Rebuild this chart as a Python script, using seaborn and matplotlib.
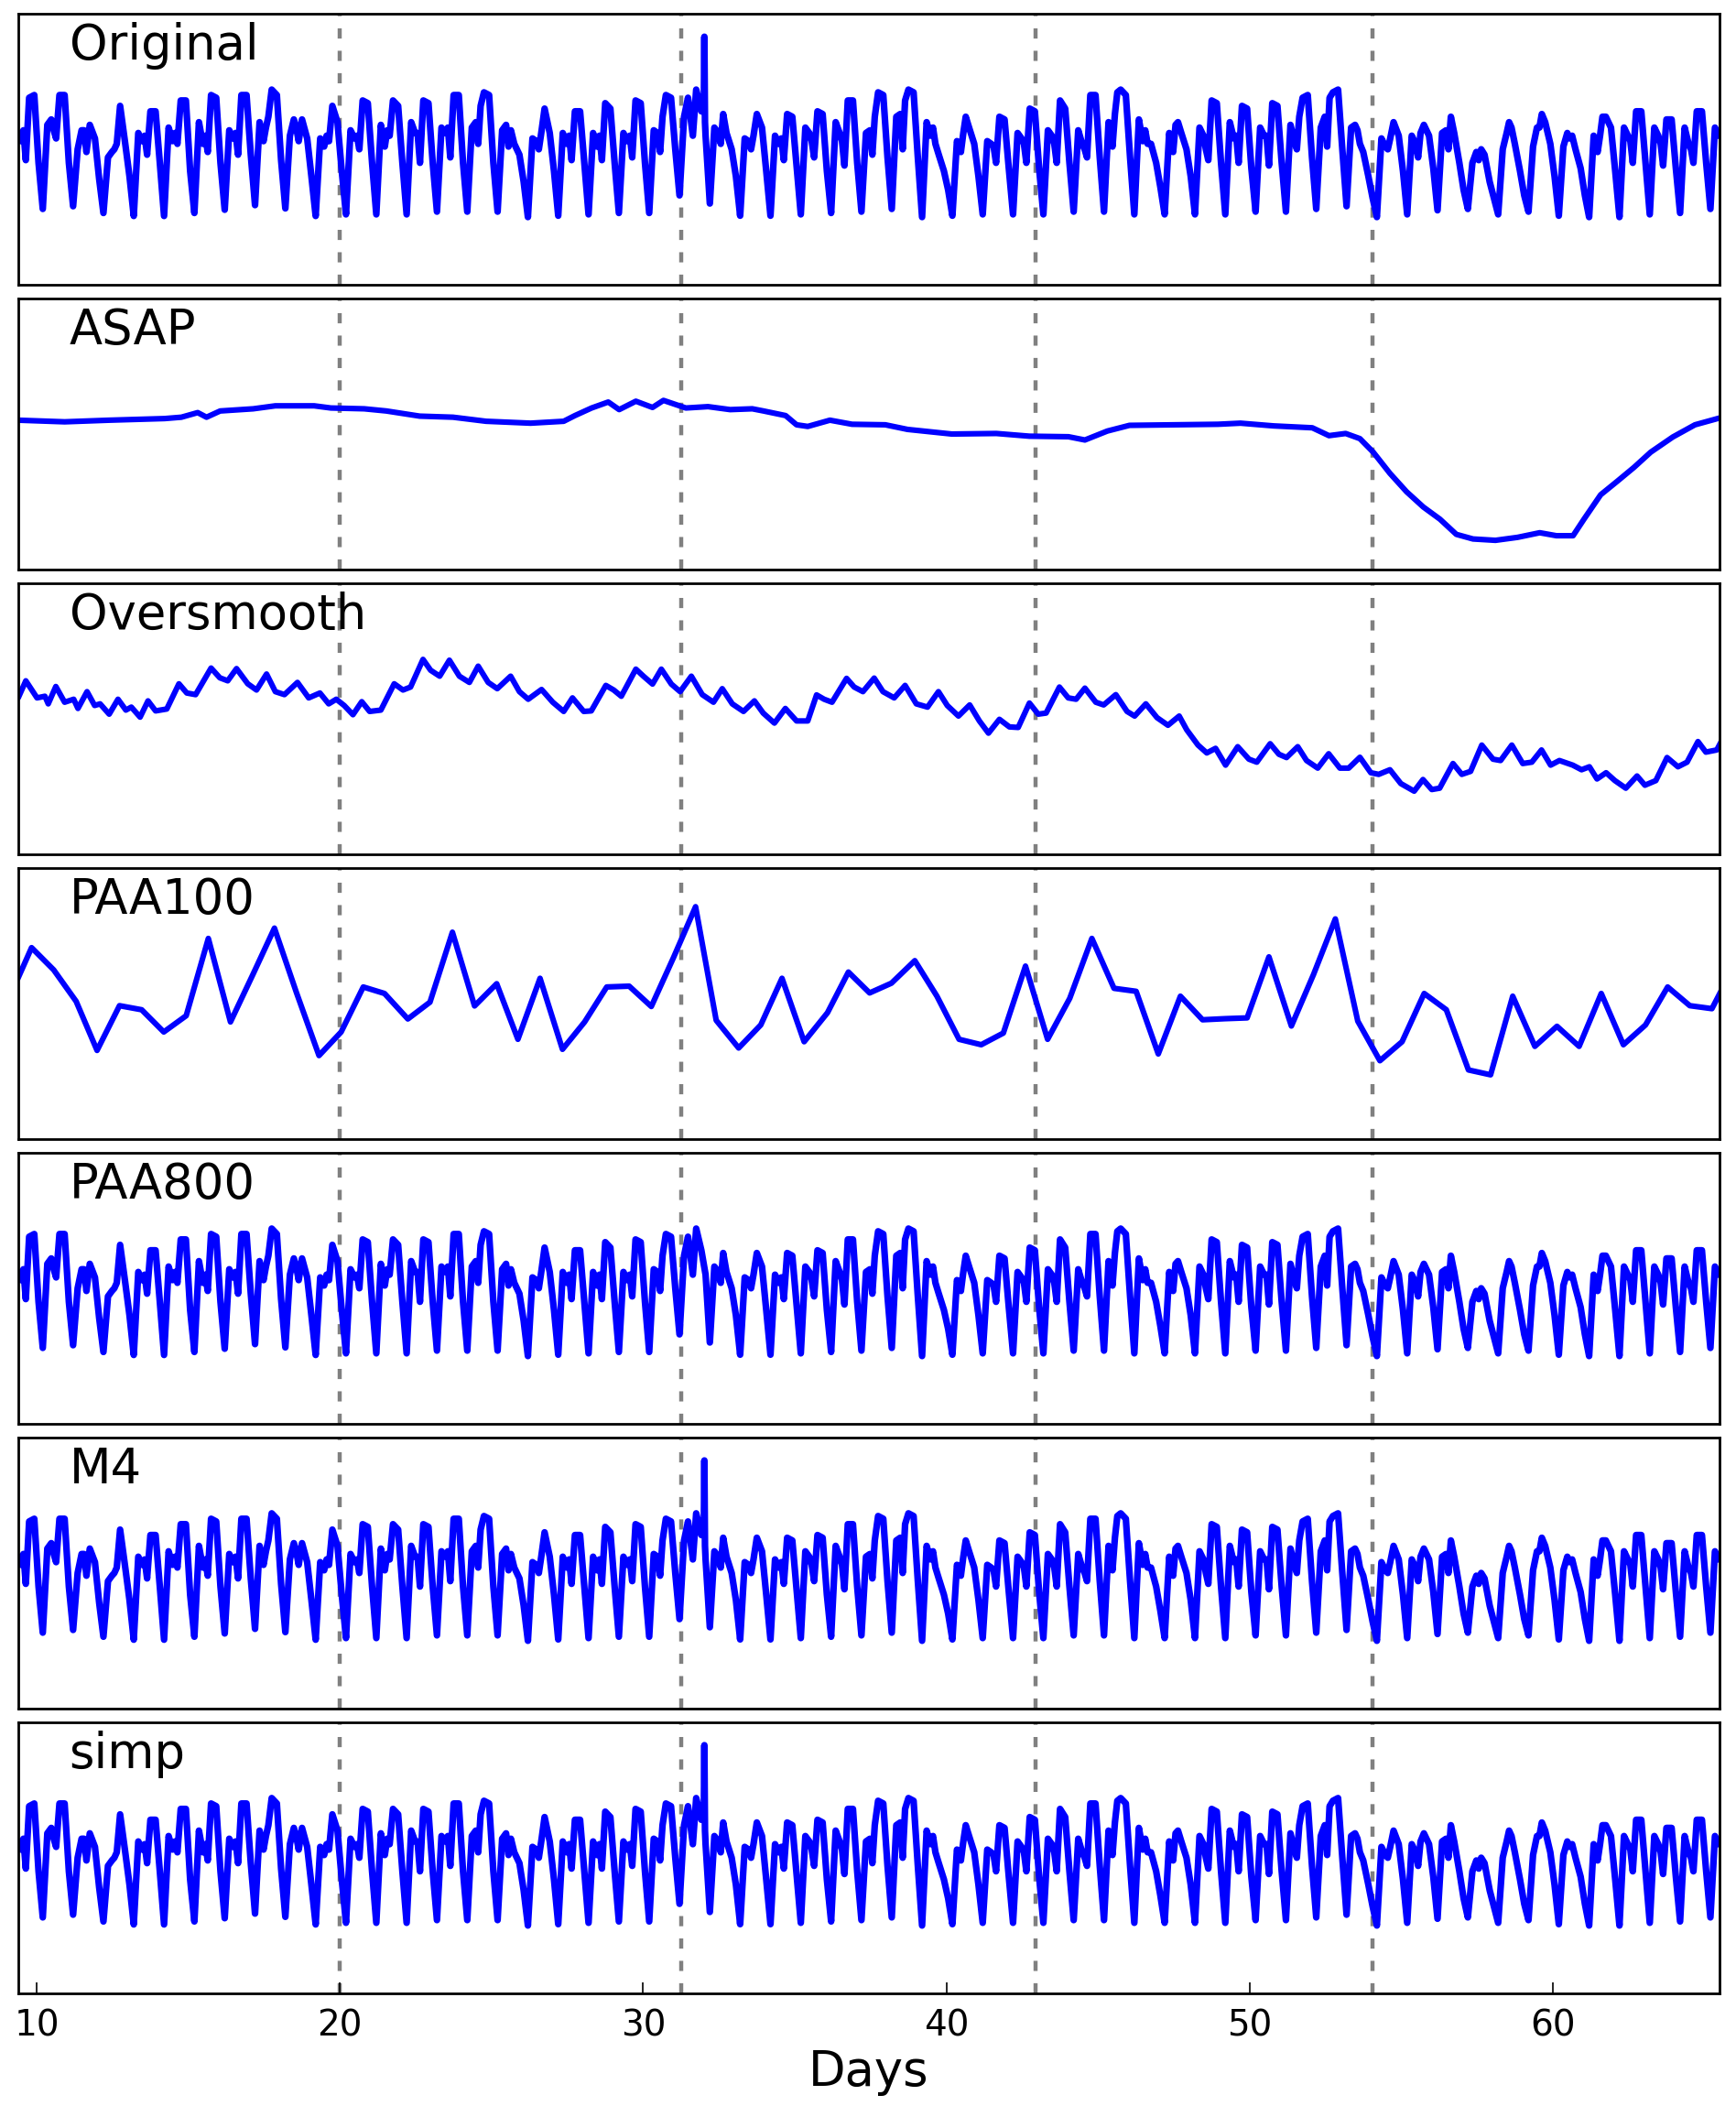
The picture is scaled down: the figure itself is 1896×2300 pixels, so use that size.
import numpy as np
import pandas as pd
import matplotlib
matplotlib.use("Agg")
import matplotlib.pyplot as plt
import seaborn as sns

# --- data (values are fractions of panel height) ---

# samples inside each day, as offsets (days) from the nightly trough
day_phases = [0.0, 0.15, 0.28, 0.36, 0.44, 0.55, 0.72, 0.86]
first_trough = 9.2

# one row per day: trough, rise, dip, mid, dip, peak, peak, fall
original_days = [
    [0.50, 0.565, 0.53, 0.57, 0.46, 0.69, 0.70, 0.45],   # 9.2
    [0.28, 0.59, 0.61, 0.57, 0.54, 0.70, 0.70, 0.45],
    [0.29, 0.50, 0.57, 0.57, 0.49, 0.59, 0.54, 0.39],
    [0.265, 0.47, 0.49, 0.50, 0.52, 0.66, 0.52, 0.40],
    [0.254, 0.56, 0.53, 0.55, 0.48, 0.64, 0.64, 0.45],
    [0.254, 0.58, 0.53, 0.56, 0.52, 0.68, 0.68, 0.42],
    [0.265, 0.60, 0.52, 0.55, 0.49, 0.70, 0.69, 0.45],
    [0.277, 0.57, 0.54, 0.56, 0.48, 0.70, 0.70, 0.48],
    [0.294, 0.60, 0.53, 0.58, 0.62, 0.72, 0.70, 0.46],
    [0.282, 0.55, 0.61, 0.58, 0.53, 0.61, 0.54, 0.40],
    [0.254, 0.54, 0.51, 0.55, 0.53, 0.66, 0.60, 0.42],   # 19.2
    [0.26, 0.57, 0.54, 0.55, 0.50, 0.68, 0.67, 0.45],
    [0.26, 0.59, 0.51, 0.57, 0.55, 0.68, 0.66, 0.45],
    [0.26, 0.60, 0.56, 0.56, 0.45, 0.68, 0.67, 0.45],
    [0.27, 0.58, 0.56, 0.58, 0.47, 0.70, 0.70, 0.45],
    [0.27, 0.58, 0.60, 0.52, 0.66, 0.71, 0.70, 0.45],
    [0.27, 0.57, 0.59, 0.51, 0.57, 0.52, 0.48, 0.38],
    [0.25, 0.54, 0.53, 0.50, 0.56, 0.65, 0.56, 0.42],
    [0.255, 0.56, 0.52, 0.55, 0.46, 0.64, 0.64, 0.45],
    [0.26, 0.56, 0.51, 0.55, 0.46, 0.67, 0.65, 0.45],
    [0.265, 0.56, 0.53, 0.55, 0.47, 0.68, 0.67, 0.45],   # 29.2
    [0.265, 0.57, 0.56, 0.49, 0.62, 0.70, 0.69, 0.50],
    [0.33, 0.62, 0.69, 0.62, 0.55, 0.72, 0.64, 0.55],
    [0.30, 0.58, 0.56, 0.52, 0.63, 0.56, 0.50, 0.40],
    [0.255, 0.54, 0.53, 0.50, 0.55, 0.63, 0.58, 0.42],
    [0.255, 0.55, 0.52, 0.54, 0.46, 0.63, 0.62, 0.44],
    [0.26, 0.58, 0.56, 0.53, 0.47, 0.64, 0.63, 0.42],
    [0.265, 0.60, 0.56, 0.53, 0.44, 0.68, 0.68, 0.45],
    [0.27, 0.56, 0.57, 0.48, 0.62, 0.71, 0.70, 0.47],
    [0.28, 0.62, 0.63, 0.50, 0.68, 0.72, 0.71, 0.47],
    [0.25, 0.60, 0.55, 0.58, 0.52, 0.48, 0.42, 0.35],    # 39.2
    [0.255, 0.53, 0.49, 0.56, 0.62, 0.58, 0.52, 0.40],
    [0.26, 0.53, 0.52, 0.51, 0.45, 0.62, 0.61, 0.43],
    [0.26, 0.56, 0.54, 0.52, 0.45, 0.65, 0.64, 0.43],
    [0.26, 0.57, 0.55, 0.52, 0.45, 0.68, 0.65, 0.45],
    [0.27, 0.57, 0.52, 0.50, 0.47, 0.70, 0.70, 0.47],
    [0.27, 0.60, 0.51, 0.63, 0.71, 0.72, 0.70, 0.47],
    [0.26, 0.61, 0.53, 0.57, 0.52, 0.52, 0.45, 0.36],
    [0.26, 0.56, 0.49, 0.59, 0.60, 0.56, 0.50, 0.40],
    [0.26, 0.58, 0.55, 0.50, 0.46, 0.68, 0.67, 0.45],
    [0.26, 0.60, 0.54, 0.55, 0.45, 0.66, 0.65, 0.43],    # 49.2
    [0.27, 0.58, 0.55, 0.55, 0.44, 0.67, 0.66, 0.45],
    [0.27, 0.59, 0.53, 0.50, 0.62, 0.69, 0.70, 0.47],
    [0.28, 0.58, 0.62, 0.51, 0.69, 0.71, 0.72, 0.50],
    [0.29, 0.58, 0.59, 0.57, 0.52, 0.49, 0.40, 0.32],
    [0.25, 0.54, 0.51, 0.50, 0.54, 0.60, 0.55, 0.42],
    [0.26, 0.55, 0.52, 0.47, 0.56, 0.59, 0.55, 0.43],
    [0.275, 0.56, 0.57, 0.50, 0.62, 0.56, 0.45, 0.35],
    [0.28, 0.45, 0.49, 0.46, 0.50, 0.48, 0.38, 0.32],
    [0.26, 0.50, 0.56, 0.60, 0.58, 0.52, 0.42, 0.33],
    [0.27, 0.51, 0.58, 0.58, 0.63, 0.60, 0.52, 0.40],    # 59.2
    [0.255, 0.51, 0.56, 0.54, 0.55, 0.50, 0.43, 0.33],
    [0.25, 0.55, 0.49, 0.55, 0.62, 0.62, 0.58, 0.42],
    [0.25, 0.58, 0.55, 0.53, 0.45, 0.64, 0.64, 0.45],
    [0.26, 0.58, 0.55, 0.52, 0.44, 0.61, 0.61, 0.43],
    [0.265, 0.58, 0.52, 0.50, 0.45, 0.64, 0.64, 0.45],
    [0.28, 0.58, 0.55, 0.55, 0.50, 0.60, 0.60, 0.45],    # 65.2
]

# the single outlier on day 32
spike_days = [32.00, 32.02, 32.04]
spike_vals = [0.64, 0.915, 0.60]

asap_days = [9.39, 10.92, 12.39, 14.22, 14.77, 15.31, 15.60, 16.05, 17.14, 17.87,
             19.15, 19.70, 20.80, 21.53, 22.63, 23.73, 24.82, 26.29, 27.38, 27.75,
             28.30, 28.85, 29.21, 29.76, 30.31, 30.67, 31.41, 32.14, 32.87, 33.60,
             33.97, 34.70, 35.06, 35.43, 36.16, 36.89, 37.99, 38.72, 40.18, 41.65,
             42.74, 44.03, 44.57, 45.31, 46.04, 47.50, 48.96, 49.70, 50.79, 52.07,
             52.62, 53.17, 53.64, 54.08, 54.63, 55.18, 55.73, 56.28, 56.82, 57.37,
             58.11, 58.84, 59.57, 60.12, 60.67, 61.03, 61.58, 62.13, 62.68, 63.23,
             63.96, 64.69, 65.50]
asap_vals = [0.551, 0.545, 0.551, 0.557, 0.562, 0.579, 0.562, 0.585, 0.593, 0.604,
             0.604, 0.596, 0.593, 0.585, 0.566, 0.562, 0.547, 0.540, 0.547, 0.568,
             0.596, 0.618, 0.590, 0.621, 0.598, 0.624, 0.596, 0.601, 0.590, 0.593,
             0.585, 0.568, 0.534, 0.528, 0.551, 0.536, 0.534, 0.517, 0.500, 0.502,
             0.492, 0.490, 0.478, 0.511, 0.532, 0.534, 0.536, 0.540, 0.530, 0.523,
             0.494, 0.502, 0.483, 0.433, 0.355, 0.287, 0.231, 0.186, 0.130, 0.113,
             0.108, 0.119, 0.136, 0.125, 0.125, 0.186, 0.276, 0.326, 0.377, 0.433,
             0.489, 0.534, 0.559]

oversmooth_days = [9.39, 9.64, 10.01, 10.27, 10.38, 10.63, 10.92, 11.22, 11.36, 11.66,
                   11.91, 12.09, 12.39, 12.68, 12.94, 13.12, 13.41, 13.67, 13.92, 14.29,
                   14.69, 14.95, 15.24, 15.75, 16.04, 16.30, 16.59, 16.96, 17.25, 17.58,
                   17.87, 18.17, 18.60, 18.97, 19.34, 19.63, 19.88, 20.14, 20.43, 20.72,
                   20.98, 21.35, 21.79, 22.08, 22.33, 22.74, 22.99, 23.29, 23.61, 23.94,
                   24.27, 24.56, 24.89, 25.19, 25.63, 25.92, 26.21, 26.65, 27.02, 27.38,
                   27.67, 28.04, 28.29, 28.77, 29.03, 29.28, 29.76, 30.01, 30.31, 30.60,
                   30.93, 31.22, 31.59, 31.95, 32.32, 32.61, 32.94, 33.31, 33.67, 33.96,
                   34.33, 34.69, 35.06, 35.43, 35.72, 35.97, 36.23, 36.71, 36.96, 37.25,
                   37.62, 37.91, 38.28, 38.64, 39.01, 39.38, 39.74, 40.03, 40.40, 40.77,
                   41.09, 41.39, 41.75, 42.08, 42.37, 42.74, 43.03, 43.29, 43.73, 44.02,
                   44.28, 44.57, 44.93, 45.19, 45.59, 45.96, 46.21, 46.58, 46.95, 47.31,
                   47.68, 47.93, 48.30, 48.59, 48.88, 49.21, 49.61, 49.98, 50.24, 50.68,
                   50.97, 51.22, 51.59, 51.88, 52.25, 52.61, 52.98, 53.27, 53.64, 54.00,
                   54.26, 54.63, 54.99, 55.43, 55.72, 56.01, 56.27, 56.71, 57.00, 57.29,
                   57.66, 58.03, 58.28, 58.65, 59.01, 59.31, 59.63, 59.93, 60.22, 60.66,
                   60.95, 61.21, 61.46, 61.76, 62.05, 62.41, 62.78, 63.04, 63.40, 63.77,
                   64.13, 64.43, 64.79, 65.05, 65.41, 65.60]
oversmooth_vals = [0.577, 0.640, 0.577, 0.583, 0.555, 0.619, 0.561, 0.572, 0.538, 0.600,
                   0.549, 0.555, 0.517, 0.572, 0.532, 0.543, 0.506, 0.566, 0.529, 0.536,
                   0.629, 0.595, 0.589, 0.687, 0.651, 0.640, 0.685, 0.629, 0.606, 0.665,
                   0.600, 0.589, 0.634, 0.577, 0.595, 0.555, 0.572, 0.549, 0.515, 0.563,
                   0.527, 0.532, 0.629, 0.606, 0.617, 0.719, 0.679, 0.657, 0.716, 0.657,
                   0.634, 0.694, 0.634, 0.611, 0.657, 0.600, 0.572, 0.608, 0.561, 0.527,
                   0.577, 0.527, 0.529, 0.623, 0.606, 0.583, 0.683, 0.657, 0.628, 0.683,
                   0.628, 0.600, 0.657, 0.589, 0.561, 0.611, 0.555, 0.527, 0.566, 0.521,
                   0.484, 0.538, 0.492, 0.492, 0.588, 0.572, 0.561, 0.649, 0.617, 0.600,
                   0.650, 0.600, 0.577, 0.623, 0.555, 0.543, 0.600, 0.549, 0.510, 0.551,
                   0.492, 0.447, 0.498, 0.470, 0.468, 0.558, 0.517, 0.521, 0.617, 0.577,
                   0.572, 0.613, 0.561, 0.551, 0.589, 0.527, 0.510, 0.555, 0.504, 0.476,
                   0.510, 0.459, 0.403, 0.374, 0.391, 0.329, 0.397, 0.351, 0.340, 0.408,
                   0.369, 0.357, 0.397, 0.346, 0.318, 0.371, 0.318, 0.318, 0.358, 0.301,
                   0.295, 0.312, 0.261, 0.233, 0.276, 0.239, 0.244, 0.335, 0.295, 0.306,
                   0.403, 0.351, 0.346, 0.403, 0.335, 0.340, 0.385, 0.329, 0.346, 0.329,
                   0.312, 0.323, 0.278, 0.301, 0.272, 0.244, 0.289, 0.255, 0.272, 0.357,
                   0.323, 0.340, 0.416, 0.377, 0.385, 0.425]

paa100_days = [9.37, 9.83, 10.56, 11.30, 11.99, 12.73, 13.46, 14.19, 14.93, 15.66,
               16.39, 17.13, 17.84, 18.57, 19.31, 20.04, 20.77, 21.47, 22.24, 22.97,
               23.71, 24.44, 25.17, 25.87, 26.60, 27.34, 28.07, 28.80, 29.54, 30.27,
               31.00, 31.73, 32.41, 33.15, 33.88, 34.58, 35.31, 36.08, 36.77, 37.47,
               38.19, 38.96, 39.69, 40.42, 41.15, 41.88, 42.61, 43.34, 44.07, 44.80,
               45.53, 46.26, 46.99, 47.72, 48.45, 49.18, 49.92, 50.64, 51.38, 52.11,
               52.83, 53.57, 54.30, 55.03, 55.76, 56.49, 57.22, 57.95, 58.68, 59.41,
               60.14, 60.87, 61.60, 62.33, 63.06, 63.79, 64.52, 65.25, 65.56]
paa100_vals = [0.590, 0.706, 0.624, 0.508, 0.327, 0.492, 0.477, 0.395, 0.455, 0.740,
               0.432, 0.607, 0.778, 0.539, 0.308, 0.395, 0.561, 0.537, 0.443, 0.505,
               0.763, 0.491, 0.573, 0.368, 0.593, 0.331, 0.432, 0.561, 0.564, 0.489,
               0.669, 0.857, 0.438, 0.336, 0.421, 0.593, 0.359, 0.466, 0.616, 0.539,
               0.575, 0.658, 0.527, 0.368, 0.348, 0.391, 0.638, 0.368, 0.519, 0.740,
               0.556, 0.545, 0.314, 0.527, 0.440, 0.444, 0.447, 0.672, 0.417, 0.607,
               0.812, 0.435, 0.289, 0.359, 0.537, 0.477, 0.255, 0.237, 0.527, 0.342,
               0.416, 0.342, 0.537, 0.348, 0.421, 0.561, 0.492, 0.481, 0.548]

panel_names = ["Original", "ASAP", "Oversmooth", "PAA100", "PAA800", "M4", "simp"]
boundary_days = [20.0, 31.25, 42.95, 54.05]
x_ticks = [10, 20, 30, 40, 50, 60]


def daily_series(with_spike):
    days, vals = [], []
    for k, row in enumerate(original_days):
        for ph, v in zip(day_phases, row):
            days.append(first_trough + k + ph)
            vals.append(v)
    if with_spike:
        days += spike_days
        vals += spike_vals
    return pd.DataFrame({"day": days, "value": vals})


series = {
    "Original": daily_series(True),
    "ASAP": pd.DataFrame({"day": asap_days, "value": asap_vals}),
    "Oversmooth": pd.DataFrame({"day": oversmooth_days, "value": oversmooth_vals}),
    "PAA100": pd.DataFrame({"day": paa100_days, "value": paa100_vals}),
    "PAA800": daily_series(False),
    "M4": daily_series(True),
    "simp": daily_series(True),
}

sns.set_style("white")
plt.rcParams["font.family"] = ["DejaVu Sans"]
plt.rcParams["text.color"] = "black"
plt.rcParams["xtick.color"] = "black"
plt.rcParams["axes.labelcolor"] = "black"

fig, axes = plt.subplots(7, 1, figsize=(9.48, 11.5), dpi=200, sharex=True)
fig.subplots_adjust(left=0.0105, right=0.9905, top=0.9935, bottom=0.0535, hspace=0.05)

for ax, name in zip(axes, panel_names):
    lw = 2.2 if name in ("ASAP", "Oversmooth", "PAA100") else 2.6
    sns.lineplot(data=series[name], x="day", y="value", ax=ax, color="#0000ff",
                 lw=lw, estimator=None, sort=True)
    for d in boundary_days:
        ax.axvline(d, color="0.5", lw=1.6, dashes=(2.5, 3.0), zorder=0)
    ax.text(0.03, 0.83, name, transform=ax.transAxes, fontsize=19, va="baseline",
            color="black")
    ax.set_ylim(0, 1)
    ax.set_xlim(9.39, 65.5)
    ax.set_yticks([])
    ax.set_ylabel("")
    ax.set_xlabel("")
    for sp in ax.spines.values():
        sp.set_color("black")
        sp.set_linewidth(1.0)
    ax.tick_params(axis="x", which="both", bottom=False, top=False, labelbottom=False)

last = axes[-1]
last.set_xticks(x_ticks)
last.tick_params(axis="x", bottom=True, labelbottom=True, direction="in",
                 length=4.5, width=0.6, labelsize=14, pad=6, colors="black")
last.set_xlabel("Days", fontsize=19, labelpad=2, color="black")

plt.savefig("out.png", dpi=200)
plt.close()
